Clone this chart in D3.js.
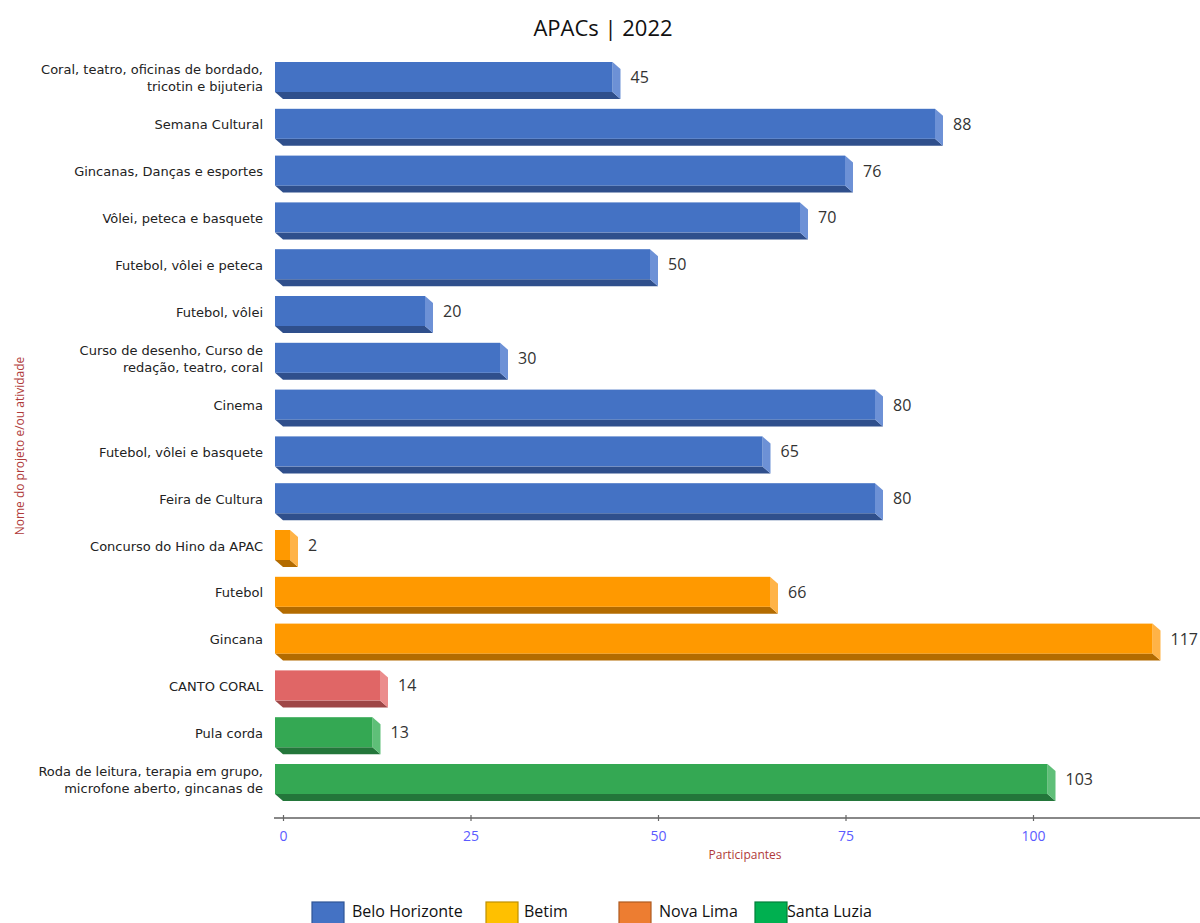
<!DOCTYPE html>
<html>
<head>
<meta charset="utf-8">
<script src="https://cdn.jsdelivr.net/npm/d3@7"></script>
<style>
  body { margin: 0; background: #fff; }
  svg { display: block; font-family: "Open Sans", "Noto Sans", sans-serif; }
</style>
</head>
<body>
<div id="chart"></div>
<script>
// rows, top to bottom ("\n" marks the line break of the label)
const categories = [
  "Coral, teatro, oficinas de bordado,\ntricotin e bijuteria",
  "Semana Cultural",
  "Gincanas, Danças e esportes",
  "Vôlei, peteca e basquete",
  "Futebol, vôlei e peteca",
  "Futebol, vôlei",
  "Curso de desenho, Curso de\nredação, teatro, coral",
  "Cinema",
  "Futebol, vôlei e basquete",
  "Feira de Cultura",
  "Concurso do Hino da APAC",
  "Futebol",
  "Gincana",
  "CANTO CORAL",
  "Pula corda",
  "Roda de leitura, terapia em grupo,\nmicrofone aberto, gincanas de"
]
const values = [45, 88, 76, 70, 50, 20, 30, 80, 65, 80, 2, 66, 117, 14, 13, 103]
const cities = [
  "Belo Horizonte", "Belo Horizonte", "Belo Horizonte", "Belo Horizonte",
  "Belo Horizonte", "Belo Horizonte", "Belo Horizonte", "Belo Horizonte",
  "Belo Horizonte", "Belo Horizonte",
  "Betim", "Betim", "Betim",
  "Nova Lima",
  "Santa Luzia", "Santa Luzia"
]
const legend_names = ["Belo Horizonte", "Betim", "Nova Lima", "Santa Luzia"]
const x_ticks = [0, 25, 50, 75, 100]

// bar faces: front / bottom / right side
const BAR_COLORS = {
  "Belo Horizonte": ["#4472c4", "#2f4f8c", "#6d91d6"],
  "Betim":          ["#ff9900", "#b36b00", "#ffb347"],
  "Nova Lima":      ["#e06666", "#9e4646", "#eb8c8c"],
  "Santa Luzia":    ["#34a853", "#23763a", "#5fbf78"]
}
const LEGEND_COLORS = {
  "Belo Horizonte": ["#4472c4", "#2f5597"],
  "Betim":          ["#ffc000", "#bf9000"],
  "Nova Lima":      ["#ed7d31", "#ae5a21"],
  "Santa Luzia":    ["#00b050", "#00803a"]
}

const width = 1200, height = 923
const depth = { dx: 8, dy: 7 }
const bar_h = 30

const svg = d3.select("#chart").append("svg")
  .attr("width", width)
  .attr("height", height)

const x = d3.scaleLinear().domain([0, 100]).range([283, 1033])
const y = d3.scaleBand().domain(d3.range(categories.length)).range([54.6, 803.4])

// title
svg.append("text")
  .attr("x", 603).attr("y", 36)
  .attr("text-anchor", "middle")
  .attr("font-size", 22)
  .attr("fill", "#111")
  .text("APACs | 2022")

// category labels
const labels = svg.append("g").selectAll("text")
  .data(categories)
  .join("text")
  .attr("text-anchor", "end")
  .attr("font-size", 13)
  .attr("font-family", "'DejaVu Sans', sans-serif")
  .attr("fill", "#222")
  .attr("transform", (d, i) => `translate(263, ${y(i) + y.bandwidth() / 2})`)

labels.each(function (d) {
  const lines = d.split("\n")
  const t = d3.select(this)
  lines.forEach((line, k) => {
    t.append("tspan")
      .attr("x", 0)
      .attr("y", (k - (lines.length - 1) / 2) * 17 + 4.5)
      .text(line)
  })
})

// 3D bars
const bars = svg.append("g").selectAll("g")
  .data(values.map((v, i) => ({ v, i, city: cities[i] })))
  .join("g")

bars.each(function (d) {
  const g = d3.select(this)
  const c = BAR_COLORS[d.city]
  const x0 = x(0) - depth.dx
  const x1 = x(d.v) - depth.dx
  const top = y(d.i) + y.bandwidth() / 2 - bar_h / 2 - 1
  const bot = top + bar_h
  // bottom face
  g.append("polygon")
    .attr("points", [[x0, bot], [x1, bot], [x1 + depth.dx, bot + depth.dy], [x0 + depth.dx, bot + depth.dy]].join(" "))
    .attr("fill", c[1])
  // right side face
  g.append("polygon")
    .attr("points", [[x1, top], [x1 + depth.dx, top + depth.dy], [x1 + depth.dx, bot + depth.dy], [x1, bot]].join(" "))
    .attr("fill", c[2])
  // front face
  g.append("rect")
    .attr("x", x0).attr("y", top)
    .attr("width", x1 - x0).attr("height", bar_h)
    .attr("fill", c[0])
})

// value labels
svg.append("g").selectAll("text")
  .data(values)
  .join("text")
  .attr("x", d => x(d) + 10)
  .attr("y", (d, i) => y(i) + y.bandwidth() / 2 + 5)
  .attr("font-size", 16)
  .attr("fill", "#333")
  .text(d => d)

// x axis
const axis_y = 818
svg.append("line")
  .attr("x1", 274).attr("x2", 1200)
  .attr("y1", axis_y).attr("y2", axis_y)
  .attr("stroke", "#888").attr("stroke-width", 2)

const xAxis = svg.append("g")
  .attr("transform", `translate(0, ${axis_y - 3})`)
  .call(d3.axisBottom(x).tickValues(x_ticks).tickSize(6).tickPadding(10))
xAxis.select(".domain").remove()
xAxis.selectAll(".tick line").attr("stroke", "#666").attr("stroke-width", 1.2)
xAxis.selectAll(".tick text")
  .attr("fill", "#5b5bff")
  .attr("font-size", 14)
  .attr("font-family", "'Liberation Sans Narrow', 'Open Sans', sans-serif")

// axis titles
svg.append("text")
  .attr("x", 745).attr("y", 859)
  .attr("text-anchor", "middle")
  .attr("font-size", 12)
  .attr("fill", "#b03a3a")
  .text("Participantes")

svg.append("text")
  .attr("transform", "translate(24, 446) rotate(-90)")
  .attr("text-anchor", "middle")
  .attr("font-size", 12)
  .attr("fill", "#b03a3a")
  .text("Nome do projeto e/ou atividade")

// legend
const legend_pos = [312, 486, 619, 755]
const legend_text_gap = [40, 38, 40, 32]
const legend = svg.append("g").selectAll("g")
  .data(legend_names)
  .join("g")
  .attr("transform", (d, i) => `translate(${legend_pos[i]}, 902)`)

legend.append("rect")
  .attr("width", 32).attr("height", 22)
  .attr("fill", d => LEGEND_COLORS[d][0])
  .attr("stroke", d => LEGEND_COLORS[d][1])
  .attr("stroke-width", 1.2)

legend.append("text")
  .attr("x", (d, i) => legend_text_gap[i])
  .attr("y", 15)
  .attr("font-size", 16)
  .attr("fill", "#111")
  .text(d => d)
</script>
</body>
</html>
